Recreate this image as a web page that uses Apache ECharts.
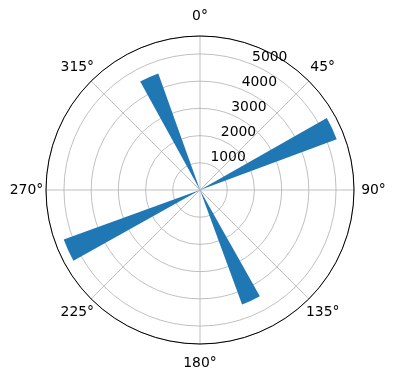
<!DOCTYPE html>
<html>
<head>
<meta charset="utf-8">
<script src="https://cdn.jsdelivr.net/npm/echarts@6/dist/echarts.min.js"></script>
<style>
  html, body { margin: 0; padding: 0; background: #fff; }
  #chart { width: 396px; height: 380px; }
</style>
</head>
<body>
<div id="chart"></div>
<script>
// bar directions (degrees, clockwise from north), lengths and angular widths
const directions = [65.0, 155.2, 245.4, 335.7];
const lengths = [5360, 4480, 5330, 4550];
const widths = [9.2, 9.2, 9.2, 9.2];
const rMax = 5660;
const rTicks = [1000, 2000, 3000, 4000, 5000];
const angleTicks = [0, 45, 90, 135, 180, 225, 270, 315];

const grid = { color: '#b0b0b0', width: 0.8 };
const font = 'DejaVu Sans';

const barData = directions.map((d, i) => [lengths[i], d, widths[i]]);
const angleLabelData = angleTicks.map(a => [rMax, a]);

const chart = echarts.init(document.getElementById('chart'));

function renderBar(params, api) {
  const cs = params.coordSys;
  const val = api.value(0), ang = api.value(1), w = api.value(2);
  const a = api.coord([val, ang - w / 2]);
  const b = api.coord([val, ang + w / 2]);
  const r = Math.hypot(a[0] - cs.cx, a[1] - cs.cy);
  return {
    type: 'sector',
    shape: {
      cx: cs.cx, cy: cs.cy, r0: 0, r: r,
      startAngle: Math.atan2(a[1] - cs.cy, a[0] - cs.cx),
      endAngle: Math.atan2(b[1] - cs.cy, b[0] - cs.cx),
      clockwise: true
    },
    style: { fill: '#1f77b4' }
  };
}

// theta labels centred a fixed pad outside the circle, like matplotlib
function renderAngleLabel(params, api) {
  const cs = params.coordSys;
  const p = api.coord([api.value(0), api.value(1)]);
  const dx = p[0] - cs.cx, dy = p[1] - cs.cy;
  const r = Math.hypot(dx, dy);
  const k = (r + 19.5) / r;
  return {
    type: 'text',
    x: cs.cx + dx * k,
    y: cs.cy + dy * k,
    style: {
      text: api.value(1) + '°',
      fill: '#000', fontSize: 13.9, fontFamily: font,
      align: 'center', verticalAlign: 'middle'
    }
  };
}

chart.setOption({
  animation: false,
  polar: [
    { center: [200, 190], radius: 154 },
    { center: [200, 190], radius: 154 }
  ],
  angleAxis: [
    {
      polarIndex: 0,
      type: 'value', min: 0, max: 360, interval: 45,
      startAngle: 90, clockwise: true,
      axisLine: { lineStyle: { color: '#000', width: 1 } },
      axisTick: { show: false },
      axisLabel: { show: false },
      splitLine: { lineStyle: grid }
    },
    {
      polarIndex: 1,
      type: 'value', min: 0, max: 360,
      startAngle: 67.5, clockwise: true,
      show: false
    }
  ],
  radiusAxis: [
    {
      polarIndex: 0,
      type: 'value', min: 0, max: rMax, interval: 1000,
      axisLine: { show: false },
      axisTick: { show: false },
      axisLabel: { show: false },
      splitLine: { lineStyle: grid }
    },
    {
      polarIndex: 1,
      type: 'value', min: 0, max: rMax, interval: 1000,
      axisLine: { show: false },
      axisTick: { show: false },
      splitLine: { show: false },
      axisLabel: {
        color: '#000', fontSize: 13.9, fontFamily: font,
        margin: 0, align: 'left', verticalAlign: 'bottom',
        showMinLabel: false, showMaxLabel: false,
        formatter: v => (rTicks.indexOf(v) >= 0 ? String(v) : '')
      }
    }
  ],
  series: [
    {
      type: 'custom',
      coordinateSystem: 'polar',
      polarIndex: 0,
      renderItem: renderBar,
      encode: { radius: 0, angle: 1 },
      data: barData
    },
    {
      type: 'custom',
      coordinateSystem: 'polar',
      polarIndex: 0,
      renderItem: renderAngleLabel,
      encode: { radius: 0, angle: 1 },
      data: angleLabelData,
      silent: true
    }
  ]
});
</script>
</body>
</html>
